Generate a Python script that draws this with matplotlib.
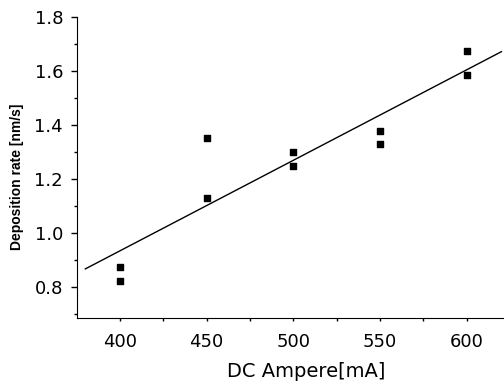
import numpy as np
import matplotlib
matplotlib.use("Agg")
import matplotlib.pyplot as plt
from matplotlib.ticker import MultipleLocator

# data
current_ma = [400, 400, 450, 450, 500, 500, 550, 550, 600, 600]
deposition_rate = [0.875, 0.823, 1.351, 1.128, 1.299, 1.248, 1.378, 1.330, 1.675, 1.585]
fit_range = [380, 620]

plt.rcParams['font.family'] = ['DejaVu Sans']

fig = plt.figure(figsize=(5.04, 3.85), dpi=100)
ax = fig.add_axes([77 / 504, 1 - 318 / 385, 427 / 504, 301 / 385])

# linear fit through the points
slope, intercept = np.polyfit(current_ma, deposition_rate, 1)
xf = np.array(fit_range)
ax.plot(xf, slope * xf + intercept, color='black', lw=1.0)

ax.scatter(current_ma, deposition_rate, marker='s', s=22, color='black', zorder=3)

ax.set_xlim(375.2, 621.5)
ax.set_ylim(0.685, 1.8)
ax.xaxis.set_major_locator(MultipleLocator(50))
ax.xaxis.set_minor_locator(MultipleLocator(25))
ax.yaxis.set_major_locator(MultipleLocator(0.2))
ax.yaxis.set_minor_locator(MultipleLocator(0.1))
ax.yaxis.set_major_formatter(plt.FormatStrFormatter('%.1f'))

ax.spines['top'].set_visible(False)
ax.spines['right'].set_visible(False)
ax.tick_params(which='major', direction='out', width=1, labelsize=13)
ax.tick_params(which='minor', direction='out', width=1)
ax.tick_params(axis='y', which='major', length=4.5, pad=5.5)
ax.tick_params(axis='y', which='minor', length=2.2)
ax.tick_params(axis='x', which='major', length=2.5, pad=8)
ax.tick_params(axis='x', which='minor', length=2.0)

ax.set_xlabel('DC Ampere[mA]', fontsize=14)
ax.xaxis.set_label_coords((306 - 77) / 427, (318 - 362) / 301)
ax.set_ylabel('Deposition rate [nm/s]', fontsize=10, fontweight='bold',
              family='Liberation Sans')
ax.yaxis.set_label_coords((24 - 77) / 427, (318 - 177) / 301)

fig.savefig('out.png', dpi=100)
